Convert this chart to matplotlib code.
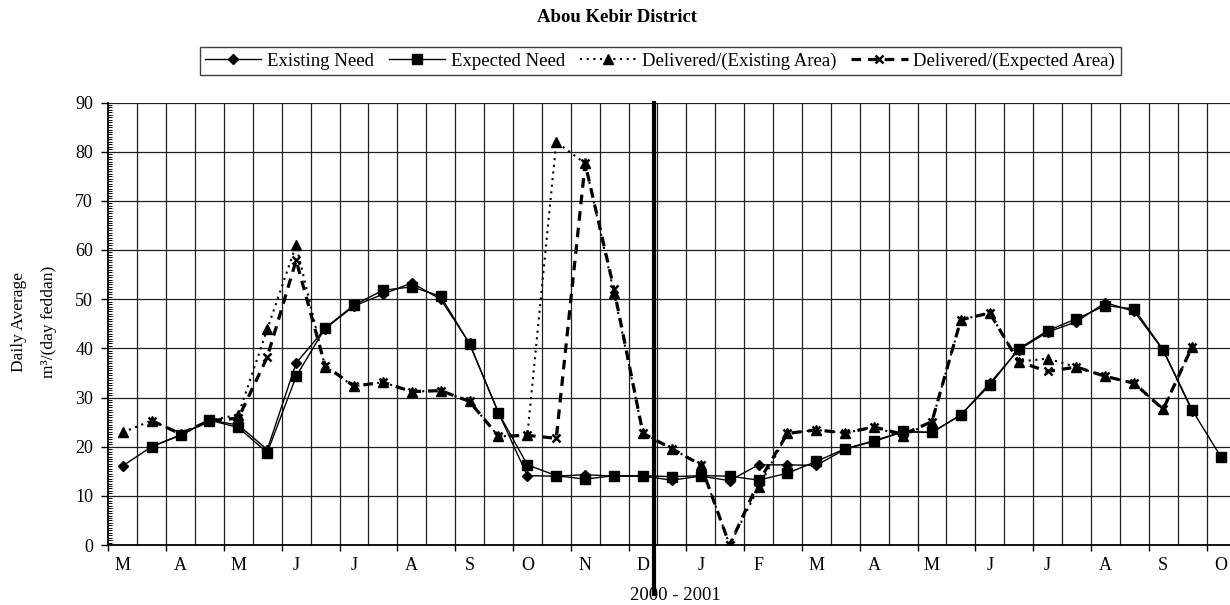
import numpy as np
import matplotlib
matplotlib.use("Agg")
import matplotlib.pyplot as plt
from matplotlib.lines import Line2D
from matplotlib.ticker import MultipleLocator

# Half-month readings, March 2000 to October 2001 (m3 per day per feddan)
month_labels = ["M", "A", "M", "J", "J", "A", "S", "O", "N", "D",
                "J", "F", "M", "A", "M", "J", "J", "A", "S", "O"]

nan = np.nan
existing_need = [16.1, 20.0, 22.4, 25.4, 24.4, 19.4, 37.0, 44.0, 48.6, 51.0,
                 53.3, 50.0, 41.0, 26.9, 14.1, 14.0, 14.3, 14.0, 14.0, 13.2,
                 14.0, 13.1, 16.3, 16.3, 16.2, 19.5, 21.1, 23.0, 22.9, 26.4,
                 32.9, 39.7, 43.3, 45.4, 49.3, 47.5, 39.6, 27.3, nan]
expected_need = [nan, 20.0, 22.3, 25.4, 23.9, 18.8, 34.3, 44.1, 48.8, 51.8,
                 52.5, 50.6, 40.9, 26.9, 16.3, 14.1, 13.4, 14.1, 14.1, 13.9,
                 14.1, 14.0, 13.2, 14.6, 17.0, 19.6, 21.2, 23.1, 22.9, 26.5,
                 32.5, 39.9, 43.6, 46.0, 48.7, 48.0, 39.7, 27.5, 17.9]
delivered_existing = [22.9, 25.3, 22.6, 25.3, 26.5, 43.9, 61.0, 36.3, 32.3, 33.1,
                      31.2, 31.4, 29.2, 22.1, 22.3, 82.0, 77.6, 51.3, 22.7, 19.6,
                      16.3, 0.0, 11.7, 22.7, 23.4, 22.8, 24.0, 22.1, 25.1, 45.8,
                      47.2, 37.3, 37.9, 36.2, 34.3, 32.9, 27.6, 40.3, nan]
delivered_expected = [nan, 25.3, 22.6, 25.3, 25.8, 38.2, 57.9, 36.5, 32.3, 33.1,
                      31.2, 31.4, 29.2, 22.1, 22.3, 21.7, 77.6, 52.0, 22.7, 19.6,
                      16.3, 0.0, 12.8, 22.7, 23.4, 22.8, 24.0, 22.5, 25.1, 45.8,
                      47.2, 37.3, 35.3, 36.2, 34.3, 32.9, 27.6, 40.3, nan]

serif = ["Liberation Serif", "DejaVu Serif"]
plt.rcParams["font.family"] = serif
plt.rcParams["font.size"] = 13

W, H = 1230, 605
fig = plt.figure(figsize=(W / 100, H / 100), dpi=100)
ax = fig.add_axes([108.3 / W, 1 - 545 / H, (1235.4 - 108.3) / W, (545 - 102.5) / H])

n = len(expected_need)
x = np.arange(n)

ax.plot(x, existing_need, color="black", lw=1.0, marker="D", ms=5,
        label="Existing Need", zorder=4)
ax.plot(x, expected_need, color="black", lw=1.0, marker="s", ms=6.5,
        label="Expected Need", zorder=4)
ax.plot(x, delivered_existing, color="black", lw=1.5, ls=(0, (1, 2.2)),
        marker="^", ms=7, label="Delivered/(Existing Area)", zorder=3)
ax.plot(x, delivered_expected, color="black", lw=2.3, ls=(0, (3, 2.2)),
        marker="x", ms=6, mew=1.8, label="Delivered/(Expected Area)", zorder=3)

ax.set_xlim(-0.5, n - 0.5)
ax.set_ylim(0, 90)

# grid: every 10 units horizontally, every half-month vertically
for yv in range(10, 91, 10):
    ax.axhline(yv, color="#202020", lw=0.9, zorder=1)
for xv in np.arange(0.5, n - 0.5, 1.0):
    ax.axvline(xv, color="#202020", lw=0.9, zorder=1)

for side in ("top", "right"):
    ax.spines[side].set_visible(False)
ax.spines["left"].set_linewidth(1.3)
ax.spines["bottom"].set_linewidth(1.3)

ax.yaxis.set_major_locator(MultipleLocator(10))
ax.yaxis.set_minor_locator(MultipleLocator(0.5))
ax.tick_params(axis="y", which="major", direction="out", length=5, width=1.0,
               pad=6, labelsize=13)
ax.tick_params(axis="y", which="minor", direction="in", length=3, width=0.7)

# month boundaries carry tick marks, month names sit under the first half
ax.set_xticks(np.arange(-0.5, n, 2.0))
ax.set_xticklabels([])
ax.set_xticks(np.arange(0, n, 2), minor=True)
ax.set_xticklabels(month_labels, minor=True)
ax.tick_params(axis="x", which="major", direction="out", length=4.5, width=1.0)
ax.tick_params(axis="x", which="minor", length=0, pad=9, labelsize=13)

# year divider
ax.add_line(Line2D([18.39, 18.39], [1.0, -0.11],
                   transform=ax.get_xaxis_transform(), color="black",
                   lw=3.0, clip_on=False, zorder=5))

fig.text(675 / W, 1 - 596 / H, "2000 - 2001", ha="center", va="center",
         fontsize=13.5)
fig.text(617 / W, 1 - 17 / H, "Abou Kebir District", ha="center",
         va="center", fontsize=13.5, fontweight="bold")
fig.text(19 / W, 1 - 322 / H, "Daily Average", rotation=90, ha="center",
         va="center", fontsize=12.5)
fig.text(49 / W, 1 - 322 / H, "m\u00b3/(day feddan)", rotation=90,
         ha="center", va="center", fontsize=12.5)

leg = fig.legend(loc="center", bbox_to_anchor=(660 / W, 1 - 61 / H), ncol=4,
                 frameon=True, fancybox=False, framealpha=1,
                 edgecolor="#404040", fontsize=13.5, handlelength=3.0,
                 handletextpad=0.3, columnspacing=0.8, borderpad=0.3,
                 borderaxespad=0)
leg.get_frame().set_linewidth(1.0)

fig.savefig("out.png", dpi=100, facecolor="white")
